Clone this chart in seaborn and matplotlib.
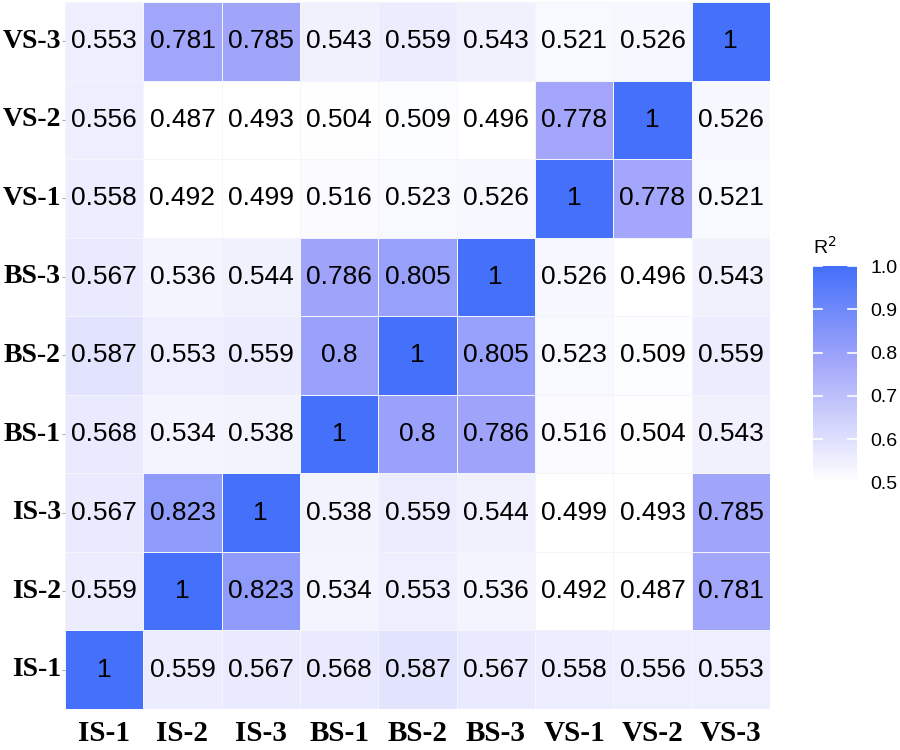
import numpy as np
import seaborn as sns
import matplotlib
matplotlib.use('Agg')
import matplotlib.pyplot as plt
from matplotlib.colors import LinearSegmentedColormap

#------------------------------------------------------------------------------
# Data
#------------------------------------------------------------------------------
samples = ['IS-1', 'IS-2', 'IS-3', 'BS-1', 'BS-2', 'BS-3', 'VS-1', 'VS-2', 'VS-3']

# rows in the same order as samples (IS-1 first, drawn at the bottom)
r2_is1 = [1, 0.559, 0.567, 0.568, 0.587, 0.567, 0.558, 0.556, 0.553]
r2_is2 = [0.559, 1, 0.823, 0.534, 0.553, 0.536, 0.492, 0.487, 0.781]
r2_is3 = [0.567, 0.823, 1, 0.538, 0.559, 0.544, 0.499, 0.493, 0.785]
r2_bs1 = [0.568, 0.534, 0.538, 1, 0.8, 0.786, 0.516, 0.504, 0.543]
r2_bs2 = [0.587, 0.553, 0.559, 0.8, 1, 0.805, 0.523, 0.509, 0.559]
r2_bs3 = [0.567, 0.536, 0.544, 0.786, 0.805, 1, 0.526, 0.496, 0.543]
r2_vs1 = [0.558, 0.492, 0.499, 0.516, 0.523, 0.526, 1, 0.778, 0.521]
r2_vs2 = [0.556, 0.487, 0.493, 0.504, 0.509, 0.496, 0.778, 1, 0.526]
r2_vs3 = [0.553, 0.781, 0.785, 0.543, 0.559, 0.543, 0.521, 0.526, 1]

cbar_ticks = [0.5, 0.6, 0.7, 0.8, 0.9, 1.0]

mat = np.array([r2_is1, r2_is2, r2_is3, r2_bs1, r2_bs2, r2_bs3, r2_vs1, r2_vs2, r2_vs3])
labels = np.array([['%g' % v for v in row] for row in mat])

#------------------------------------------------------------------------------
# Plot
#------------------------------------------------------------------------------
# white -> lavender -> blue, like a Lab gradient
cmap = LinearSegmentedColormap.from_list(
    'wb', [(0.0, '#ffffff'), (0.56, '#a2a6fa'), (1.0, '#4470fa')])

fig = plt.figure(figsize=(9, 7.5), dpi=100)
ax = fig.add_axes([0.0722, 0.0547, 0.7833, 0.9427])
cax = fig.add_axes([0.903, 0.357, 0.049, 0.288])

sns.heatmap(mat, ax=ax, cbar_ax=cax, cmap=cmap, vmin=0.5, vmax=1.0,
            annot=labels, fmt='', annot_kws={'fontsize': 19, 'color': 'black',
                                             'family': 'Liberation Sans'},
            linewidths=0.6, linecolor='#f4f4fb',
            xticklabels=samples, yticklabels=samples,
            cbar_kws={'ticks': cbar_ticks})
ax.invert_yaxis()

for t in ax.get_xticklabels() + ax.get_yticklabels():
    t.set_family('Liberation Serif')
    t.set_fontweight('bold')
    t.set_color('black')
plt.setp(ax.get_xticklabels(), rotation=0, fontsize=21)
plt.setp(ax.get_yticklabels(), rotation=0, fontsize=20)
ax.tick_params(axis='x', length=0, pad=8)
ax.tick_params(axis='y', length=2, color='#aaaaaa', pad=1)

# colorbar styling
cbar = ax.collections[0].colorbar
cbar.outline.set_visible(False)
cax.tick_params(length=0, labelsize=14, pad=10)
for t in cax.get_yticklabels():
    t.set_family('Liberation Sans')
cax.set_yticklabels(['0.5', '0.6', '0.7', '0.8', '0.9', '1.0'])
for v in cbar_ticks:
    cax.plot([0, 0.2], [v, v], color='white', lw=1.2, transform=cax.get_yaxis_transform())
    cax.plot([0.8, 1], [v, v], color='white', lw=1.2, transform=cax.get_yaxis_transform())
cax.text(0.0, 1.04, 'R$^2$', transform=cax.transAxes, fontsize=14,
         family='Liberation Sans', ha='left', va='bottom')

fig.savefig('out.png', dpi=100)
